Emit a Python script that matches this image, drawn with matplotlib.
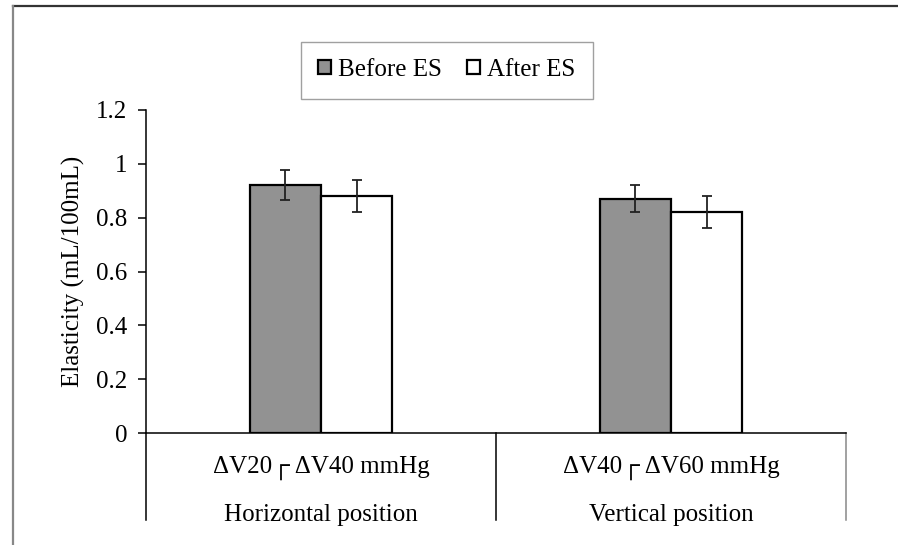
import numpy as np
import matplotlib
matplotlib.use('Agg')
import matplotlib.pyplot as plt
from matplotlib.lines import Line2D
import matplotlib.transforms as mtrans

plt.rcParams['font.family'] = ['Liberation Serif', 'DejaVu Sans']

series = ['Before ES', 'After ES']
sub_labels = ['\u0394V20\u250c \u0394V40 mmHg', '\u0394V40\u250c \u0394V60 mmHg']
cat_labels = ['Horizontal position', 'Vertical position']
before = [0.92, 0.87]
before_err = [0.056, 0.05]
after = [0.88, 0.82]
after_err = [0.06, 0.06]
yticks = [0, 0.2, 0.4, 0.6, 0.8, 1.0, 1.2]
ytick_labels = ['0', '0.2', '0.4', '0.6', '0.8', '1', '1.2']

W, H = 898, 545
FS = 18
fig = plt.figure(figsize=(W/100, H/100), dpi=100)
ax = fig.add_axes([146/W, (H-433)/H, 700/W, 323/H])

x = np.arange(len(before))
w = 0.203
ekw = dict(elinewidth=1.3, capthick=1.3, ecolor='#222222')
ax.bar(x - w/2, before, w, yerr=before_err, capsize=3.6, color='#929292',
       edgecolor='black', linewidth=1.6, label=series[0], error_kw=ekw, zorder=2)
ax.bar(x + w/2, after, w, yerr=after_err, capsize=3.6, color='white',
       edgecolor='black', linewidth=1.6, label=series[1], error_kw=ekw, zorder=2)

ax.set_xlim(-0.5, 1.5)
ax.set_ylim(0, 1.2)
ax.set_yticks(yticks)
ax.set_yticklabels(ytick_labels, fontsize=FS)
ax.tick_params(axis='y', direction='out', length=5.5, width=1.1, pad=8)
ax.set_xticks([])
for s in ['top', 'right']:
    ax.spines[s].set_visible(False)
ax.spines['left'].set_linewidth(1.1)
ax.spines['bottom'].set_linewidth(1.1)
ax.set_ylabel('Elasticity (mL/100mL)', fontsize=FS, labelpad=8)

# multi-level category axis
tr = mtrans.blended_transform_factory(ax.transData, ax.transAxes)
for xs, c in zip([-0.5, 0.5, 1.5], ['black', 'black', '#888888']):
    ax.add_line(Line2D([xs, xs], [0, -0.27], transform=tr, color=c,
                       linewidth=1.1, clip_on=False))
for i in range(len(x)):
    ax.text(x[i], -0.108, sub_labels[i], transform=tr, ha='center', va='center', fontsize=FS)
    ax.text(x[i], -0.254, cat_labels[i], transform=tr, ha='center', va='center', fontsize=FS)

leg = fig.legend(loc='center', bbox_to_anchor=(447/W, 1-70/H), ncol=2, fontsize=FS,
                 frameon=True, fancybox=False, edgecolor='#888888', handlelength=0.5,
                 handleheight=0.5, handletextpad=0.3, columnspacing=1.0,
                 borderpad=0.7)
leg.get_frame().set_linewidth(1.0)

# outer frame (partially cropped)
fig.add_artist(Line2D([13/W, 1], [1-6/H, 1-6/H], transform=fig.transFigure,
                      color='#333333', linewidth=1.6))
fig.add_artist(Line2D([13/W, 13/W], [0, 1-6/H], transform=fig.transFigure,
                      color='#888888', linewidth=1.6))

fig.savefig('out.png', dpi=100)
